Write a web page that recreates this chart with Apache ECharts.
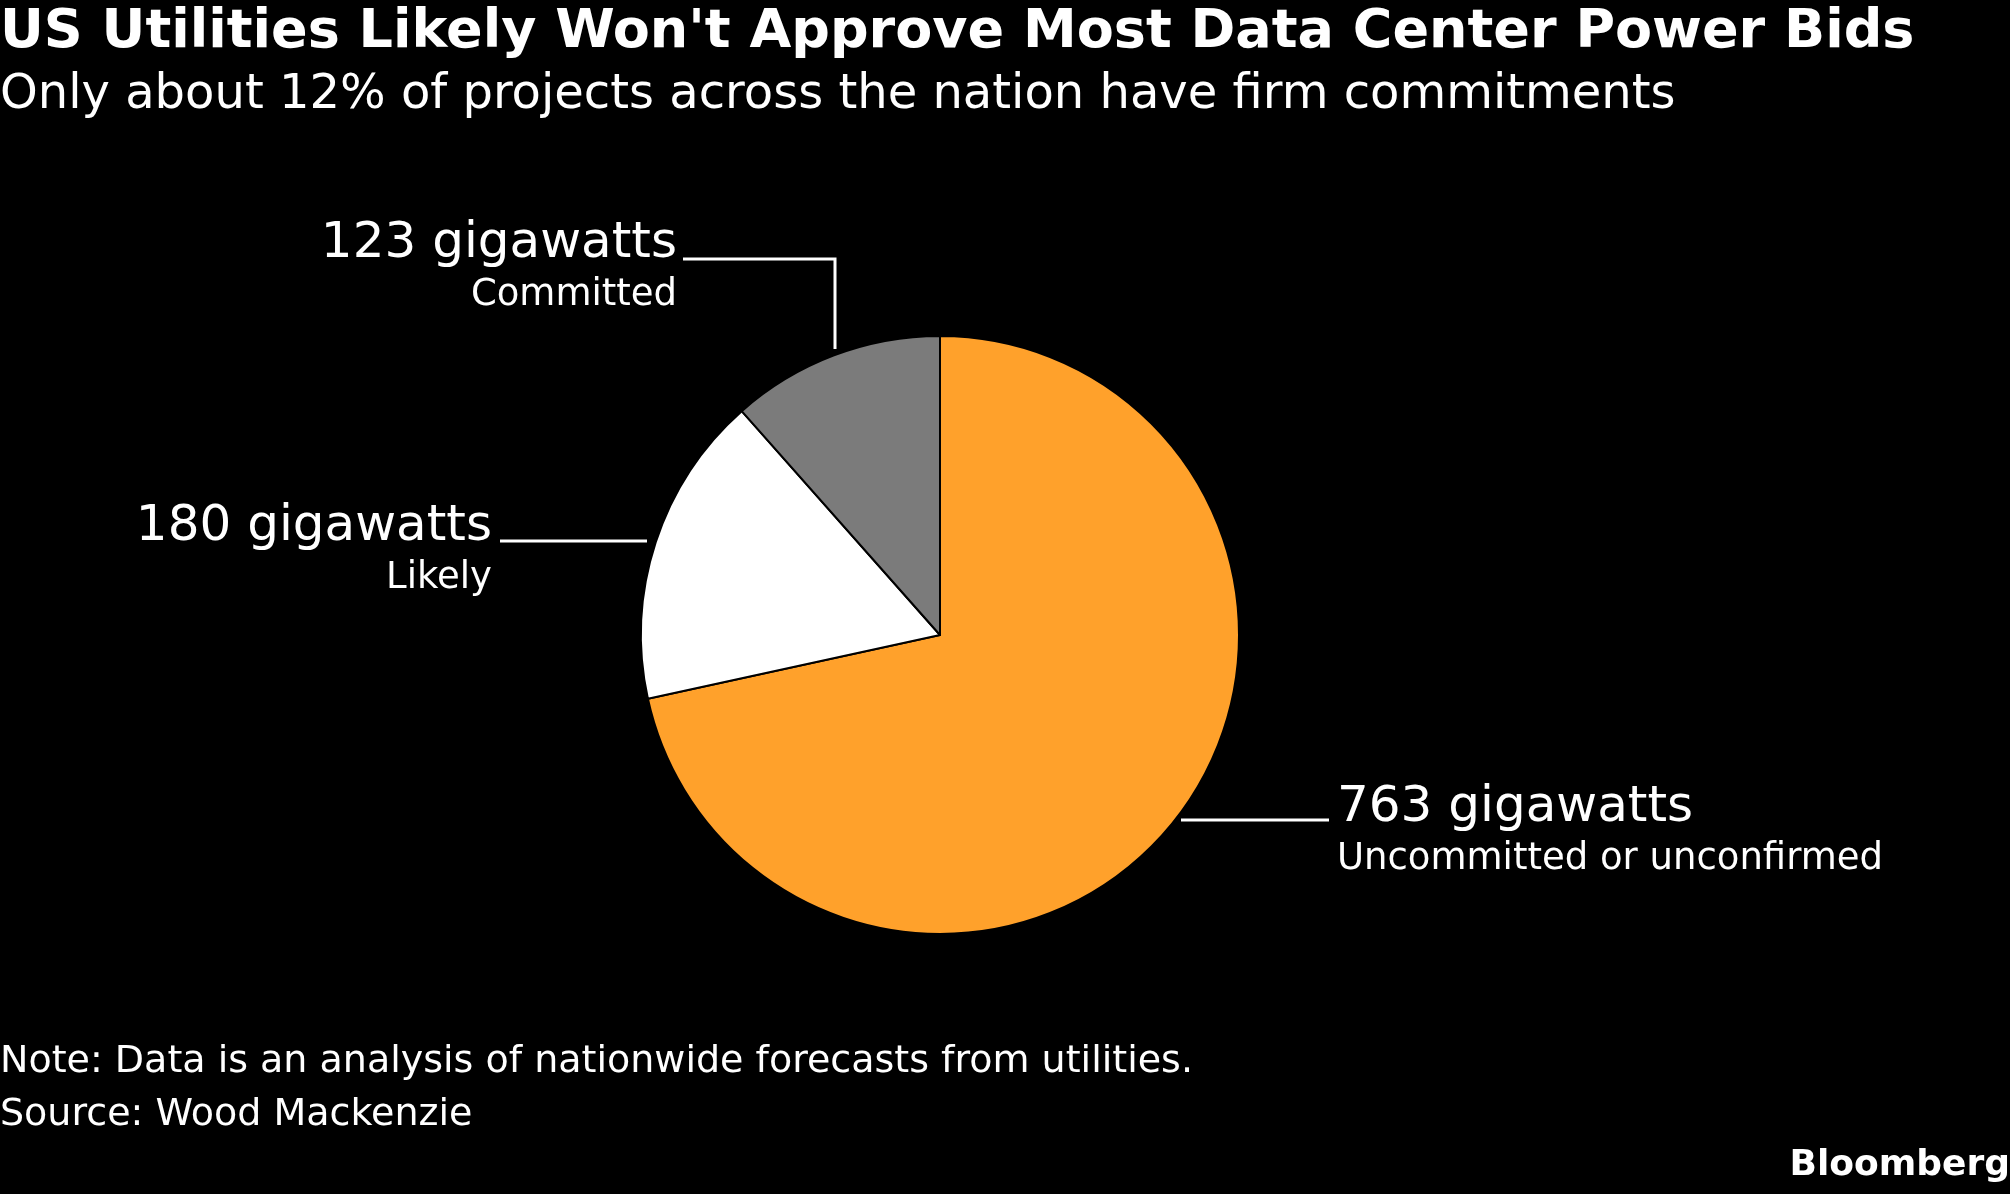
<!DOCTYPE html>
<html><head><meta charset="utf-8">
<script src="https://cdn.jsdelivr.net/npm/echarts@6/dist/echarts.min.js"></script>
<style>html,body{margin:0;background:#000}#c{width:2010px;height:1194px}</style>
</head><body><div id="c"></div>
<script>
const categories = ['Uncommitted or unconfirmed', 'Likely', 'Committed'];
const values = [763, 180, 123];
const colors = ['#FFA12B', '#FFFFFF', '#7B7B7B'];
const F = 'DejaVu Sans';
const labelPos = [
  {x: 1337, y: 780, align: 'left', line: [[1329, 820], [1250, 820], [1181, 820]]},
  {x: 492, y: 499, align: 'right', line: [[500, 541], [575, 541], [647, 541]]},
  {x: 677, y: 216, align: 'right', line: [[683, 259], [835, 259], [835, 349]]}
];
const chart = echarts.init(document.getElementById('c'));
chart.setOption({
  backgroundColor: '#000',
  animation: false,
  title: [
    {text: "US Utilities Likely Won't Approve Most Data Center Power Bids", left: 0, top: 6, padding: 0,
     textStyle: {color: '#fff', fontFamily: F, fontWeight: 'bold', fontSize: 54}},
    {text: 'Only about 12% of projects across the nation have firm commitments', left: 0, top: 72, padding: 0,
     textStyle: {color: '#fff', fontFamily: F, fontWeight: 'normal', fontSize: 48}},
    {text: 'Note: Data is an analysis of nationwide forecasts from utilities.\nSource: Wood Mackenzie', left: 0, top: 1036, padding: 0,
     textStyle: {color: '#fff', fontFamily: F, fontWeight: 'normal', fontSize: 38, lineHeight: 53}},
    {text: 'Bloomberg', right: 0, top: 1148, padding: 0,
     textStyle: {color: '#fff', fontFamily: F, fontWeight: 'bold', fontSize: 36}}
  ],
  series: [{
    type: 'pie',
    center: [940, 635],
    radius: [0, 299],
    startAngle: 90,
    clockwise: true,
    data: categories.map((c, i) => ({name: c, value: values[i], itemStyle: {color: colors[i]}})),
    itemStyle: {borderColor: '#000', borderWidth: 2},
    label: {
      show: true,
      formatter: p => '{a|' + p.value + ' gigawatts}\n{b|' + p.name + '}',
      rich: {
        a: {color: '#fff', fontFamily: F, fontSize: 50, lineHeight: 56},
        b: {color: '#fff', fontFamily: F, fontSize: 37, lineHeight: 46}
      }
    },
    labelLine: {show: true, lineStyle: {color: '#fff', width: 3}},
    labelLayout: p => {
      const l = labelPos[p.dataIndex];
      return {x: l.x, y: l.y, align: l.align, verticalAlign: 'top', labelLinePoints: l.line};
    }
  }]
});
</script></body></html>
